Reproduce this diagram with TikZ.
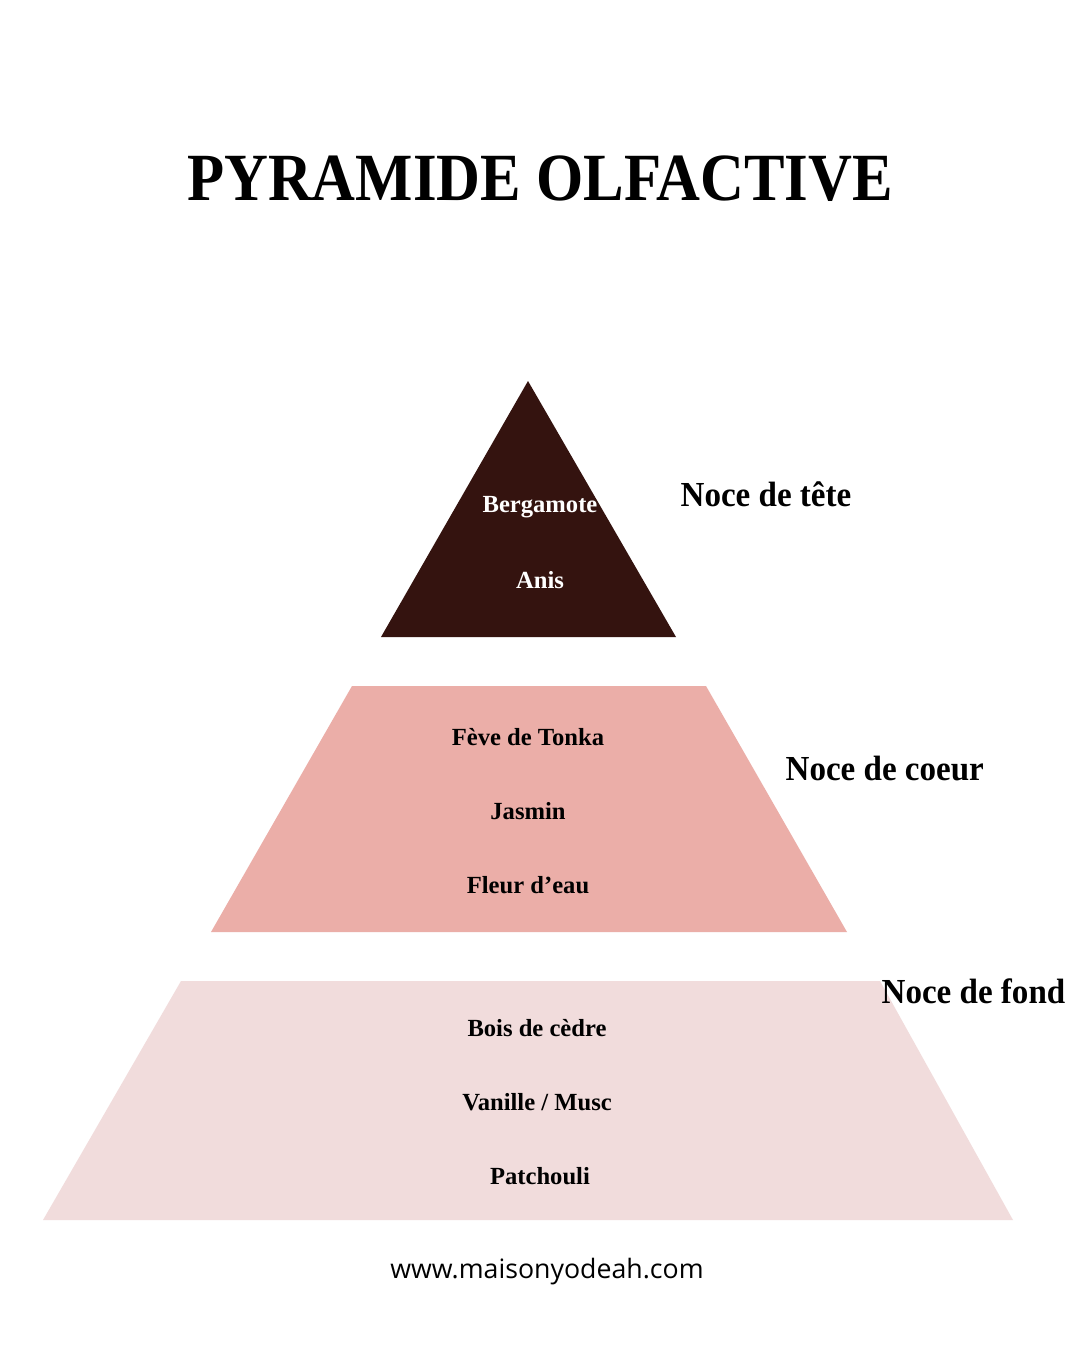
\documentclass[tikz,border=0pt]{standalone}
\usepackage{fontspec}
\setmainfont{Liberation Serif}
\newfontfamily\webfont{Open Sans}
\usepackage{tikz}
\definecolor{tete}{HTML}{34130F}
\definecolor{coeur}{HTML}{EBAEA8}
\definecolor{fond}{HTML}{F1DCDC}
\tikzset{
  note/.style={font=\fontsize{17.5}{20}\selectfont\bfseries},
  niveau/.style={anchor=west, xscale=0.94, font=\fontsize{25}{28}\selectfont\bfseries},
}

\begin{document}
\begin{tikzpicture}[x=0.025cm,y=-0.025cm]
    \useasboundingbox[fill=white] (0,0) rectangle (1080,1350);
    \node[font=\fontsize{48}{54}\selectfont\bfseries, xscale=0.9] (titre) at (540,179) {PYRAMIDE OLFACTIVE};
    \fill[tete] (528,381) -- (676,637) -- (381,637) -- cycle;
    \fill[coeur] (352,686) -- (706,686) -- (847,932) -- (211,932) -- cycle;
    \fill[fond] (181,981) -- (880,981) -- (1013,1220) -- (43,1220) -- cycle;
    \node[note, white] (bergamote) at (540,507) {Bergamote};
    \node[note, white] (anis) at (540,580) {Anis};
    \node[note] (feve) at (528,737) {Fève de Tonka};
    \node[note] (jasmin) at (528,811) {Jasmin};
    \node[note] (fleur) at (528,885) {Fleur d’eau};
    \node[note] (cedre) at (537,1028) {Bois de cèdre};
    \node[note] (vanille) at (537,1102) {Vanille / Musc};
    \node[note] (patchouli) at (540,1176) {Patchouli};
    \node[niveau] (ntete) at (676,494) {Noce de tête};
    \node[niveau] (ncoeur) at (781,769) {Noce de coeur};
    \node[niveau] (nfond) at (877,991) {Noce de fond};
    \node[font=\fontsize{19}{22}\selectfont\webfont] (site) at (547,1272) {www.maisonyodeah.com};
\end{tikzpicture}
\end{document}
